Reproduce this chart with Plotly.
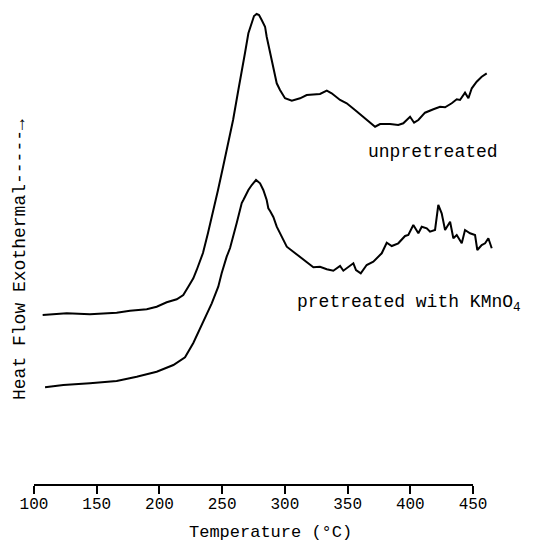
import plotly.graph_objects as go

# Temperature (°C) and heat flow (arbitrary units, exothermal up)
temp_unpretreated = [106.9, 126.1, 144.6, 165.9, 176.5, 189.9, 197.8, 205.8, 213.8, 219.0,
                     223.0, 227.0, 229.7, 234.7, 238.7, 242.7, 246.7, 250.7, 254.7, 258.7,
                     262.9, 265.6, 268.2, 270.9, 273.6, 275.4, 277.5, 279.4, 281.5, 284.2,
                     285.5, 288.2, 290.8, 293.5, 296.1, 300.1, 305.5, 312.1, 317.4, 328.0,
                     333.4, 337.3, 344.0, 349.3, 355.9, 362.5, 367.9, 371.9, 375.9, 383.8,
                     390.4, 394.4, 399.8, 403.0, 406.4, 411.7, 418.4, 423.7, 427.7, 433.0,
                     437.0, 439.6, 443.6, 446.3, 449.0, 452.9, 456.9, 460.9]
flow_unpretreated = [17.0, 17.17, 17.07, 17.23, 17.43, 17.57, 17.83, 18.27, 18.57, 19.0,
                     19.83, 20.67, 21.5, 23.2, 25.2, 27.2, 29.5, 31.8, 34.2, 36.5,
                     39.5, 41.2, 43.2, 45.17, 46.17, 46.9, 47.1, 47.0, 46.5, 45.83,
                     44.83, 43.2, 41.5, 40.17, 39.5, 38.67, 38.43, 38.67, 39.0, 39.1,
                     39.43, 39.17, 38.5, 38.17, 37.5, 36.83, 36.33, 35.83, 36.1, 36.1,
                     36.0, 36.17, 36.83, 36.23, 36.5, 37.23, 37.57, 37.83, 37.77, 38.17,
                     38.57, 38.5, 39.23, 38.67, 39.67, 40.33, 40.83, 41.17]

temp_pretreated = [108.8, 123.4, 144.6, 165.9, 181.9, 197.8, 211.1, 220.4, 227.0, 235.0,
                   241.7, 246.9, 249.6, 253.6, 256.3, 261.6, 265.6, 266.9, 270.9, 273.6,
                   277.0, 280.2, 282.8, 285.5, 286.8, 288.2, 290.8, 293.5, 297.5, 301.5,
                   306.7, 313.4, 318.7, 322.7, 328.0, 333.4, 338.6, 344.0, 346.6, 351.9,
                   354.6, 356.7, 360.5, 365.2, 370.5, 377.2, 381.2, 385.2, 390.4, 395.8,
                   398.4, 402.4, 406.4, 409.1, 413.1, 415.7, 419.7, 422.3, 425.0, 427.7,
                   431.7, 434.3, 437.0, 441.0, 443.6, 447.6, 451.6, 453.4, 456.9, 459.6,
                   462.2, 464.9]
flow_pretreated = [9.77, 10.0, 10.17, 10.4, 10.83, 11.33, 12.0, 12.77, 14.2, 16.3,
                   18.17, 19.83, 21.17, 22.83, 23.7, 26.2, 28.2, 28.5, 29.5, 30.0,
                   30.5, 30.17, 29.5, 28.5, 27.67, 27.4, 26.8, 25.83, 24.9, 23.83,
                   23.33, 22.67, 22.23, 21.77, 21.83, 21.57, 21.43, 21.9, 21.43, 21.9,
                   22.17, 21.5, 21.17, 22.0, 22.33, 23.17, 24.23, 23.9, 24.17, 24.9,
                   25.0, 26.0, 25.17, 25.83, 25.67, 25.33, 25.5, 28.0, 27.17, 25.5,
                   26.33, 24.67, 25.0, 24.17, 25.5, 25.17, 25.0, 23.5, 24.0, 24.17,
                   24.67, 23.67]

tick_vals = [100, 150, 200, 250, 300, 350, 400, 450]
tick_text = ["100", "150", "200", "250", "300", "350", "400", "450"]

FONT = "Liberation Mono, Courier New, monospace"

fig = go.Figure()
fig.add_trace(go.Scatter(x=temp_unpretreated, y=flow_unpretreated, mode="lines",
                         line=dict(color="black", width=2), name="unpretreated"))
fig.add_trace(go.Scatter(x=temp_pretreated, y=flow_pretreated, mode="lines",
                         line=dict(color="black", width=2), name="pretreated with KMnO4"))

# x-axis baseline from 100 to 450
fig.add_shape(type="line", xref="x", yref="paper", x0=100, x1=450, y0=0, y1=0,
              line=dict(color="black", width=2))

fig.add_annotation(x=418, y=33.3, xref="x", yref="y", text="unpretreated",
                   showarrow=False, font=dict(family=FONT, size=18, color="black"))
fig.add_annotation(x=308, y=18.2, xref="x", yref="y", xanchor="left",
                   text="pretreated with KMnO<sub>4</sub>",
                   showarrow=False, font=dict(family=FONT, size=18, color="black"))
fig.add_annotation(x=-0.030, y=0.469, xref="paper", yref="paper", textangle=-90,
                   xanchor="center", yanchor="middle",
                   text="Heat Flow Exothermal-----→", showarrow=False,
                   font=dict(family=FONT, size=18, color="black"))
fig.add_annotation(x=0.511, y=-0.098, xref="paper", yref="paper",
                   xanchor="center", yanchor="middle",
                   text="Temperature (°C)", showarrow=False,
                   font=dict(family=FONT, size=17, color="black"))

fig.update_layout(
    width=534, height=548,
    margin=dict(l=34, r=38, t=5, b=63),
    paper_bgcolor="white", plot_bgcolor="white",
    showlegend=False,
    font=dict(family=FONT, color="black"),
    xaxis=dict(range=[100, 468.3], showline=False, showgrid=False, zeroline=False,
               tickmode="array", tickvals=tick_vals, ticktext=tick_text,
               ticks="outside", ticklen=8, tickwidth=2, tickcolor="black",
               ticklabelstandoff=-4,
               tickfont=dict(family=FONT, size=16, color="black")),
    yaxis=dict(range=[0, 48], visible=False, showgrid=False, zeroline=False),
)

fig.write_html("out.html")
